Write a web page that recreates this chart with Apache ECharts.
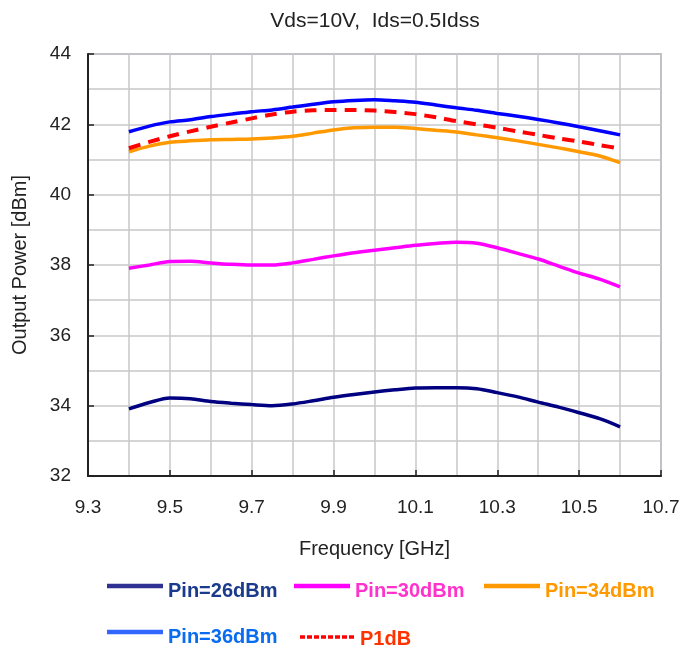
<!DOCTYPE html>
<html>
<head>
<meta charset="utf-8">
<script src="https://cdn.jsdelivr.net/npm/echarts@6/dist/echarts.min.js"></script>
<style>html,body{margin:0;padding:0;background:#fff;}#c{width:683px;height:651px;}</style>
</head>
<body>
<div id="c"></div>
<script>
var freq = [9.40,9.45,9.50,9.55,9.60,9.65,9.70,9.75,9.80,9.85,9.90,9.95,10.00,10.05,10.10,10.15,10.20,10.25,10.30,10.35,10.40,10.45,10.50,10.55,10.60];
var pin26 = [33.91,34.09,34.22,34.20,34.12,34.07,34.03,34.00,34.05,34.14,34.24,34.32,34.39,34.45,34.50,34.51,34.51,34.48,34.37,34.25,34.10,33.96,33.80,33.63,33.40];
var pin30 = [37.91,38.00,38.10,38.11,38.06,38.02,38.00,38.00,38.06,38.16,38.26,38.35,38.42,38.49,38.56,38.61,38.65,38.62,38.49,38.33,38.17,37.97,37.77,37.60,37.38];
var pin34 = [41.22,41.38,41.49,41.53,41.56,41.57,41.58,41.61,41.66,41.75,41.84,41.90,41.92,41.92,41.88,41.83,41.78,41.70,41.62,41.53,41.43,41.33,41.22,41.10,40.91];
var pin36 = [41.79,41.95,42.07,42.13,42.22,42.29,42.36,42.41,42.49,42.57,42.64,42.68,42.70,42.67,42.63,42.55,42.47,42.40,42.31,42.23,42.14,42.04,41.93,41.82,41.70];
var p1dB  = [41.32,41.50,41.66,41.80,41.93,42.05,42.17,42.28,42.36,42.40,42.41,42.41,42.39,42.35,42.29,42.20,42.09,42.00,41.90,41.80,41.70,41.60,41.51,41.41,41.31];
var seriesNames = ['Pin=26dBm','Pin=30dBm','Pin=34dBm','Pin=36dBm','P1dB'];
var titleText = 'Vds=10V,  Ids=0.5Idss';
var xName = 'Frequency [GHz]';
var yName = 'Output Power [dBm]';

function pairs(ys){ return freq.map(function(f,i){ return [f, ys[i]]; }); }

var font = "'Liberation Sans', Arial, sans-serif";
var chart = echarts.init(document.getElementById('c'), null, {renderer:'canvas'});

// legend icons: a solid bar near the top of the icon box (so it sits above the text centre)
var solidIcon = 'path://M0,0h56v4.5h-56z M0,14.4h0.1v0.1h-0.1z';
var dashIcon = (function(){
  var p = 'path://';
  for (var i = 0; i < 8; i++) { p += 'M' + (i*7) + ',0h5v3.5h-5z '; }
  p += 'M0,7.4h0.1v0.1h-0.1z';
  return p;
})();

function mkLegend(name, left, top, icon, h, lineColor, textColor){
  return {
    left: left, top: top, orient: 'horizontal', selectedMode: false,
    padding: 0, itemWidth: 56, itemHeight: h, itemGap: 0,
    data: [{
      name: name, icon: icon,
      itemStyle: {color: lineColor, borderWidth: 0},
      textStyle: {color: textColor}
    }],
    textStyle: {fontFamily: font, fontSize: 20, fontWeight: 'bold'}
  };
}

var option = {
  backgroundColor: '#fff',
  animation: false,
  title: {
    text: titleText, left: 370, top: 6, textAlign: 'center',
    textStyle: {fontFamily: font, fontSize: 21, fontWeight: 'normal', color: '#222'}
  },
  grid: {left: 88, top: 54, right: 22, bottom: 175, show: true, borderColor: '#8f8fb2', borderWidth: 1.5, backgroundColor: 'transparent'},
  legend: [
    mkLegend(seriesNames[0], 107, 581, solidIcon, 14.5, '#2e3192', '#1a3a8c'),
    mkLegend(seriesNames[1], 294, 581, solidIcon, 14.5, '#ff00ff', '#ff33cc'),
    mkLegend(seriesNames[2], 484, 581, solidIcon, 14.5, '#ff9900', '#ff9900'),
    mkLegend(seriesNames[3], 107, 627, solidIcon, 14.5, '#3366ff', '#0a6cf0'),
    mkLegend(seriesNames[4], 300, 629, dashIcon, 7.5, '#ff0000', '#ff3300')
  ],
  xAxis: {
    type: 'value', min: 9.3, max: 10.7, interval: 0.2,
    name: xName, nameLocation: 'middle', nameGap: 63,
    nameTextStyle: {fontFamily: font, fontSize: 20, color: '#222'},
    axisLine: {show: true, onZero: false, lineStyle: {color: '#222', width: 2}},
    axisTick: {show: true, inside: true, length: 6, lineStyle: {color: '#222', width: 1.5}},
    axisLabel: {fontFamily: font, fontSize: 19, color: '#222', margin: 22, formatter: function(v){ return v.toFixed(1); }},
    splitLine: {show: true, lineStyle: {color: '#c8c8c8', width: 1.5}},
    minorTick: {show: false, splitNumber: 2},
    minorSplitLine: {show: true, lineStyle: {color: '#c8c8c8', width: 1.5}}
  },
  yAxis: {
    type: 'value', min: 32, max: 44, interval: 2,
    name: yName, nameLocation: 'middle', nameGap: 58, nameRotate: 90,
    nameTextStyle: {fontFamily: font, fontSize: 20, color: '#222'},
    axisLine: {show: true, lineStyle: {color: '#222', width: 2}},
    axisTick: {show: true, inside: true, length: 6, lineStyle: {color: '#222', width: 1.5}},
    axisLabel: {fontFamily: font, fontSize: 19, color: '#222', margin: 17},
    splitLine: {show: true, lineStyle: {color: '#c8c8c8', width: 1.5}},
    minorTick: {show: false, splitNumber: 2},
    minorSplitLine: {show: true, lineStyle: {color: '#c8c8c8', width: 1.5}}
  },
  series: [
    {name: seriesNames[0], type: 'line', data: pairs(pin26), symbol: 'none', smooth: 0.3, lineStyle: {color: '#000080', width: 3.5}, itemStyle: {color: '#000080'}},
    {name: seriesNames[1], type: 'line', data: pairs(pin30), symbol: 'none', smooth: 0.3, lineStyle: {color: '#ff00ff', width: 3.5}, itemStyle: {color: '#ff00ff'}},
    {name: seriesNames[2], type: 'line', data: pairs(pin34), symbol: 'none', smooth: 0.3, lineStyle: {color: '#ff9900', width: 3.5}, itemStyle: {color: '#ff9900'}},
    {name: seriesNames[3], type: 'line', data: pairs(pin36), symbol: 'none', smooth: 0.3, lineStyle: {color: '#0000ff', width: 3.5}, itemStyle: {color: '#0000ff'}},
    {name: seriesNames[4], type: 'line', data: pairs(p1dB), symbol: 'none', smooth: 0.3, lineStyle: {color: '#ff0000', width: 4, type: [12,8]}, itemStyle: {color: '#ff0000'}}
  ]
};
chart.setOption(option);
</script>
</body>
</html>
